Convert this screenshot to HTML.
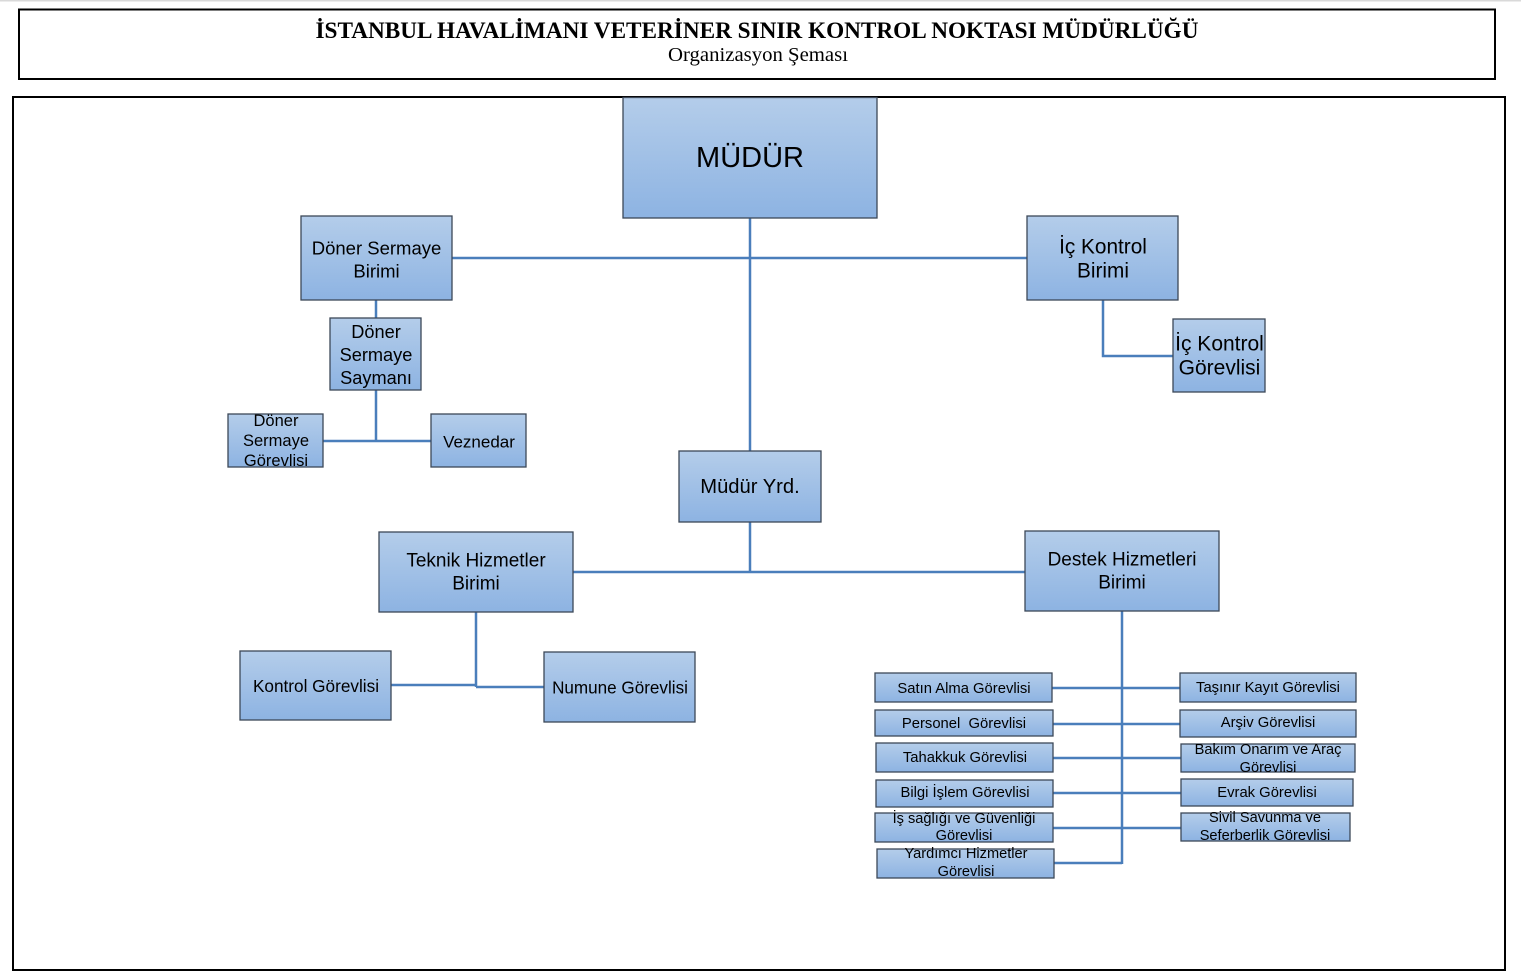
<!DOCTYPE html>
<html>
<head>
<meta charset="utf-8">
<style>
  html, body { margin: 0; padding: 0; background: #ffffff; }
  body { width: 1521px; height: 974px; overflow: hidden; }
  svg { display: block; }
  .t { font-family: "Liberation Sans", "DejaVu Sans", sans-serif; fill: #000; text-anchor: middle; dominant-baseline: central; }
  .h { font-family: "Liberation Serif", "DejaVu Serif", serif; fill: #000; text-anchor: middle; }
  .box { fill: url(#g); stroke: #3c4858; stroke-width: 1.3; }
  .ln { stroke: #4a7ebb; stroke-width: 2.5; fill: none; }
</style>
</head>
<body>
<svg width="1521" height="974" viewBox="0 0 1521 974" xmlns="http://www.w3.org/2000/svg">
  <defs>
    <linearGradient id="g" x1="0" y1="0" x2="0" y2="1">
      <stop offset="0" stop-color="#b4cdea"/>
      <stop offset="1" stop-color="#8db3e2"/>
    </linearGradient>
  </defs>

  <!-- top gray line -->
  <rect x="0" y="0" width="1521" height="1.5" fill="#d9d9d9"/>

  <!-- header -->
  <rect x="19" y="9.5" width="1476" height="69.5" fill="#fff" stroke="#000" stroke-width="2"/>
  <text class="h" x="757" y="38" font-size="22.9" font-weight="bold" textLength="883" lengthAdjust="spacingAndGlyphs">İSTANBUL HAVALİMANI VETERİNER SINIR KONTROL NOKTASI MÜDÜRLÜĞÜ</text>
  <text class="h" x="758" y="61" font-size="20" textLength="180" lengthAdjust="spacingAndGlyphs">Organizasyon Şeması</text>

  <!-- main frame -->
  <rect x="13" y="97" width="1492" height="873" fill="#fff" stroke="#000" stroke-width="2"/>

  <!-- connectors -->
  <path class="ln" d="M750 218 V451"/>
  <path class="ln" d="M452 258 H1027"/>
  <path class="ln" d="M376 300 V318"/>
  <path class="ln" d="M376 390 V441"/>
  <path class="ln" d="M323 441 H431"/>
  <path class="ln" d="M1103 300 V356 H1173"/>
  <path class="ln" d="M750 522 V572"/>
  <path class="ln" d="M573 572 H1025"/>
  <path class="ln" d="M476 612 V687"/>
  <path class="ln" d="M391 685 H476"/>
  <path class="ln" d="M476 687 H544"/>
  <path class="ln" d="M1122 611 V864"/>
  <path class="ln" d="M1052 688 H1180"/>
  <path class="ln" d="M1053 724 H1180"/>
  <path class="ln" d="M1053 758 H1181"/>
  <path class="ln" d="M1053 793 H1181"/>
  <path class="ln" d="M1053 828 H1181"/>
  <path class="ln" d="M1054 863 H1122"/>

  <!-- boxes -->
  <rect class="box" x="623" y="97.5" width="254" height="120.5"/>
  <rect class="box" x="301" y="216" width="151" height="84"/>
  <rect class="box" x="1027" y="216" width="151" height="84"/>
  <rect class="box" x="330" y="318" width="91" height="72"/>
  <rect class="box" x="1173" y="319" width="92" height="73"/>
  <rect class="box" x="228" y="414" width="95" height="53"/>
  <rect class="box" x="431" y="414" width="95" height="53"/>
  <rect class="box" x="679" y="451" width="142" height="71"/>
  <rect class="box" x="379" y="532" width="194" height="80"/>
  <rect class="box" x="1025" y="531" width="194" height="80"/>
  <rect class="box" x="240" y="651" width="151" height="69"/>
  <rect class="box" x="544" y="652" width="151" height="70"/>
  <rect class="box" x="875" y="673" width="177" height="29"/>
  <rect class="box" x="875" y="710" width="178" height="26"/>
  <rect class="box" x="876" y="743" width="177" height="29"/>
  <rect class="box" x="876" y="780" width="177" height="27"/>
  <rect class="box" x="875" y="813" width="178" height="29"/>
  <rect class="box" x="877" y="849" width="177" height="29"/>
  <rect class="box" x="1180" y="673" width="176" height="29"/>
  <rect class="box" x="1180" y="710" width="176" height="27"/>
  <rect class="box" x="1181" y="744" width="174" height="28"/>
  <rect class="box" x="1181" y="779" width="172" height="27"/>
  <rect class="box" x="1181" y="813" width="169" height="28"/>

  <g transform="translate(0,1)">
  <text class="t" x="750" y="157" font-size="29">MÜDÜR</text>

  <text class="t" x="376.5" y="247" font-size="18.5">Döner Sermaye</text>
  <text class="t" x="376.5" y="270" font-size="18.5">Birimi</text>

  <text class="t" x="1103" y="246" font-size="20.8">İç Kontrol</text>
  <text class="t" x="1103" y="270" font-size="20.8">Birimi</text>

  <text class="t" x="376" y="331" font-size="18.2">Döner</text>
  <text class="t" x="376" y="354" font-size="18.2">Sermaye</text>
  <text class="t" x="376" y="377" font-size="18.2">Saymanı</text>

  <text class="t" x="1219.5" y="343" font-size="21">İç Kontrol</text>
  <text class="t" x="1219.5" y="367" font-size="21">Görevlisi</text>

  <text class="t" x="276" y="420" font-size="16.5">Döner</text>
  <text class="t" x="276" y="440" font-size="16.5">Sermaye</text>
  <text class="t" x="276" y="460" font-size="16.5">Görevlisi</text>

  <text class="t" x="479" y="441" font-size="17">Veznedar</text>

  <text class="t" x="750" y="486" font-size="20.2">Müdür Yrd.</text>

  <text class="t" x="476" y="560" font-size="19">Teknik Hizmetler</text>
  <text class="t" x="476" y="583" font-size="19">Birimi</text>

  <text class="t" x="1122" y="559" font-size="19">Destek Hizmetleri</text>
  <text class="t" x="1122" y="582" font-size="19">Birimi</text>

  <text class="t" x="316" y="685" font-size="17.2">Kontrol Görevlisi</text>

  <text class="t" x="620" y="687" font-size="17.1">Numune Görevlisi</text>

  <text class="t" x="964" y="688" font-size="14.8">Satın Alma Görevlisi</text>
  <text class="t" x="964" y="723" font-size="14.8" xml:space="preserve">Personel  Görevlisi</text>
  <text class="t" x="965" y="757" font-size="14.8">Tahakkuk Görevlisi</text>
  <text class="t" x="965" y="792" font-size="14.8">Bilgi İşlem Görevlisi</text>
  <text class="t" x="964" y="818" font-size="14.6">İş sağlığı ve Güvenliği</text>
  <text class="t" x="964" y="835" font-size="14.6">Görevlisi</text>
  <text class="t" x="966" y="853" font-size="14.6">Yardımcı Hizmetler</text>
  <text class="t" x="966" y="871" font-size="14.6">Görevlisi</text>

  <text class="t" x="1268" y="687" font-size="14.8">Taşınır Kayıt Görevlisi</text>
  <text class="t" x="1268" y="722" font-size="14.8">Arşiv Görevlisi</text>
  <text class="t" x="1268" y="749" font-size="14.6">Bakım Onarım ve Araç</text>
  <text class="t" x="1268" y="767" font-size="14.6">Görevlisi</text>
  <text class="t" x="1267" y="792" font-size="14.8">Evrak Görevlisi</text>
  <text class="t" x="1265" y="817" font-size="14.6">Sivil Savunma ve</text>
  <text class="t" x="1265" y="835" font-size="14.6">Seferberlik Görevlisi</text>
  </g>
</svg>
</body>
</html>
